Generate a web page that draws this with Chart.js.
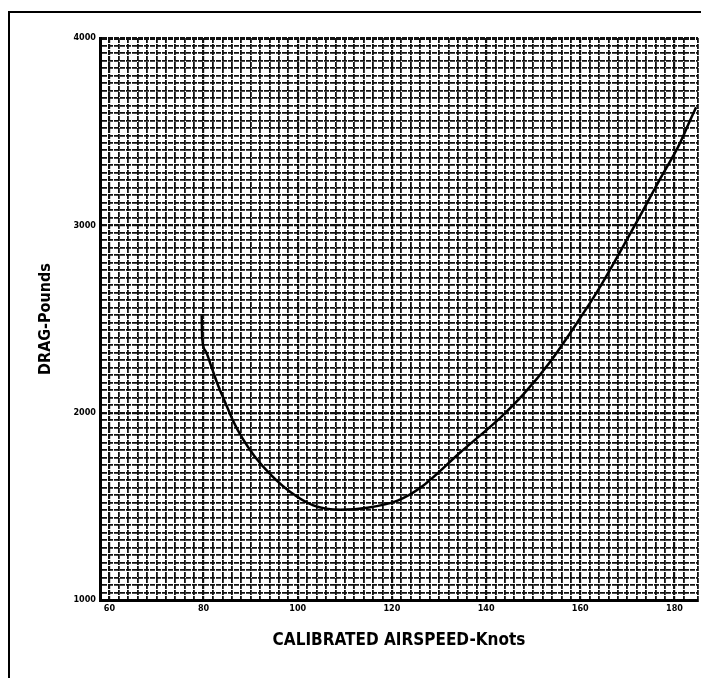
<!DOCTYPE html>
<html>
<head>
<meta charset="utf-8">
<script src="https://cdn.jsdelivr.net/npm/chart.js@4.4.1/dist/chart.umd.min.js"></script>
<style>
  body { margin: 0; background: #fff; }
  #wrap { position: relative; width: 701px; height: 678px; overflow: hidden; }
  #frame { position: absolute; left: 8px; top: 11px; width: 720px; height: 700px;
           border-left: 2px solid #000; border-top: 2px solid #000; }
  canvas { position: absolute; left: 0; top: 0; }
</style>
</head>
<body>
<div id="wrap">
  <div id="frame"></div>
  <canvas id="drag-chart" width="701" height="678"></canvas>
</div>
<script>
// values
var airspeed = [79.6, 79.7, 80.4, 81.6, 83.0, 84.5, 86.2, 88.2, 90.9, 94.4, 98.5, 103.3, 109.1,
                114.8, 121.2, 126.1, 134.6, 143.1, 148.0, 153.7, 160.1, 164.4, 168.6, 172.9,
                177.1, 180.8, 183.5, 184.6];
var drag = [2520, 2400, 2330, 2250, 2150, 2060, 1960, 1865, 1765, 1665, 1575, 1505, 1482,
            1492, 1530, 1600, 1790, 1975, 2100, 2275, 2510, 2680, 2865, 3060,
            3255, 3420, 3570, 3630];
var xTicks = [60, 80, 100, 120, 140, 160, 180];
var yTicks = [1000, 2000, 3000, 4000];

function makeDragChart() {

    var points = [];
    for (var i = 0; i < airspeed.length; i++) {
        points.push({ x: airspeed[i], y: drag[i] });
    }

    var fam = "'DejaVu Sans Condensed', 'Liberation Sans', 'DejaVu Sans', sans-serif";
    var tickFont = { family: fam, size: 9, weight: "bold" };

    var config = {
        type: 'line',
        data: {
            datasets: [{
                data: points,
                borderColor: '#000',
                borderWidth: 2.5,
                pointRadius: 0,
                cubicInterpolationMode: 'monotone',
                fill: false
            }]
        },
        options: {
            responsive: false,
            animation: false,
            layout: { padding: { top: 38, right: 0, left: 0, bottom: 0 } },
            plugins: {
                legend: { display: false },
                tooltip: { enabled: false }
            },
            scales: {
                x: {
                    type: 'linear',
                    min: 58,
                    max: 185,
                    afterFit: function (scale) { scale.height = 78; },
                    ticks: {
                        stepSize: 2,
                        autoSkip: false,
                        maxRotation: 0,
                        padding: 3,
                        color: '#000',
                        font: tickFont,
                        callback: function (v) { return xTicks.indexOf(v) >= 0 ? v : ''; }
                    },
                    grid: {
                        color: '#111',
                        lineWidth: function (ctx) {
                            return ctx.tick && xTicks.indexOf(ctx.tick.value) >= 0 ? 2.2 : 1.8;
                        },
                        drawTicks: false
                    },
                    border: { display: true, color: '#000', width: 3, dash: [5, 1] },
                    title: {
                        display: true,
                        text: 'CALIBRATED AIRSPEED-Knots',
                        color: '#000',
                        font: { family: fam, size: 17, weight: "bold" },
                        padding: { top: 0, bottom: 27 }
                    }
                },
                y: {
                    type: 'linear',
                    min: 1000,
                    max: 4000,
                    afterFit: function (scale) { scale.width = 100; },
                    ticks: {
                        stepSize: 40,
                        autoSkip: false,
                        padding: 4,
                        color: '#000',
                        font: tickFont,
                        callback: function (v) { return yTicks.indexOf(v) >= 0 ? v : ''; }
                    },
                    grid: {
                        color: '#111',
                        lineWidth: function (ctx) {
                            if (!ctx.tick) return 1.8;
                            if (ctx.tick.value === 4000) return 3;
                            return yTicks.indexOf(ctx.tick.value) >= 0 ? 2.2 : 1.8;
                        },
                        drawTicks: false
                    },
                    border: { display: true, color: '#000', width: 3, dash: [5, 1] },
                    title: {
                        display: true,
                        text: 'DRAG-Pounds',
                        color: '#000',
                        font: { family: fam, size: 16, weight: "bold" },
                        padding: { top: 36, bottom: 0 }
                    }
                }
            }
        }
    };

    var ctx = document.getElementById("drag-chart").getContext("2d");
    window.dragChart = new Chart(ctx, config);
}

makeDragChart();
</script>
</body>
</html>
